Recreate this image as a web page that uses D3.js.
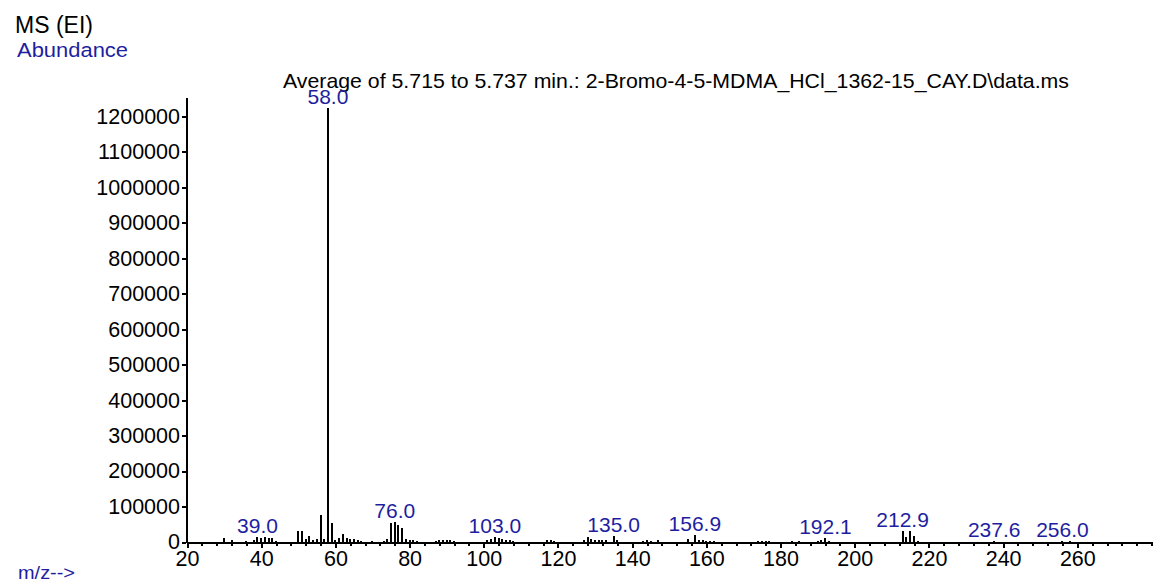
<!DOCTYPE html>
<meta charset="utf-8">
<style>
body { margin: 0; background: #fff; }
svg text { font-family: "Liberation Sans", Arial, sans-serif; }
.axis path, .axis line { stroke: #000; stroke-width: 2px; shape-rendering: crispEdges; }
.axis text { fill: #000; font-size: 21.5px; }
.peak { stroke: #000; stroke-width: 1.6px; shape-rendering: crispEdges; }
.blue { fill: #1e1ea0; }
</style>
<body>
<svg width="1153" height="585"></svg>
<script src="https://d3js.org/d3.v7.min.js"></script>
<script>

// peaks (m/z, abundance)
var mz = [30, 32, 36, 38, 39, 40, 41, 42, 43, 44,
          50, 51, 52, 53, 54, 55, 56, 57, 58, 59, 60, 61, 62, 63, 64, 65, 66, 67, 70,
          73, 74, 75, 76, 77, 78, 79, 80, 81, 82, 87, 88, 89, 90, 91, 92,
          101, 102, 103, 104, 105, 106, 107, 108, 117, 118, 119,
          127, 128, 129, 130, 131, 132, 133, 135, 136, 143, 144, 145, 147,
          155, 156.9, 158, 159, 160, 161, 162, 174, 175, 176, 177, 183, 185,
          190, 191, 192.1, 193, 212.9, 213.9, 214.9, 215.9, 217, 237.6, 256, 258];
var abundance = [11000, 7000, 4000, 6000, 14000, 10000, 13000, 12000, 11000, 4000,
          31000, 31000, 8000, 18000, 6000, 9000, 76000, 8000, 1225000, 54000, 6000, 10000, 23000, 10000, 8000, 9000, 5000, 3000, 3000,
          3000, 9000, 54000, 55000, 48000, 40000, 8000, 6000, 5000, 3000, 3000, 6000, 5000, 6000, 5000, 3000,
          5000, 9000, 14000, 10000, 8000, 5000, 5000, 3000, 5000, 6000, 4000,
          5000, 13000, 8000, 7000, 6000, 7000, 6000, 16000, 5000, 4000, 6000, 4000, 5000,
          8000, 20000, 6000, 5000, 4000, 4000, 3000, 3000, 4000, 4000, 3000, 3000, 4000,
          4000, 5000, 10000, 4000, 32000, 14000, 30000, 16000, 4000, 2500, 3000, 3000];

var labelMz = [39.0, 58.0, 76.0, 103.0, 135.0, 156.9, 192.1, 212.9, 237.6, 256.0];

var yTicks = d3.range(0, 1200001, 100000);
var xTicks = d3.range(20, 261, 20);
var xMinor = d3.range(20, 281, 4);

var title = "Average of 5.715 to 5.737 min.: 2-Bromo-4-5-MDMA_HCl_1362-15_CAY.D\\data.ms";

var svg = d3.select("svg");

var x = d3.scaleLinear().domain([20, 280.4]).range([187, 1153]);
var y = d3.scaleLinear().domain([0, 1255000]).range([542, 97]);

svg.append("text")
    .attr("x", 15).attr("y", 33)
    .attr("font-size", "23px")
    .text("MS (EI)");

svg.append("text")
    .attr("class", "blue")
    .attr("x", 17).attr("y", 57)
    .attr("font-size", "20.5px")
    .attr("textLength", 111)
    .attr("lengthAdjust", "spacingAndGlyphs")
    .text("Abundance");

svg.append("text")
    .attr("x", 283).attr("y", 88)
    .attr("font-size", "21px")
    .attr("textLength", 786)
    .attr("lengthAdjust", "spacingAndGlyphs")
    .text(title);

svg.append("text")
    .attr("class", "blue")
    .attr("x", 18).attr("y", 579)
    .attr("font-size", "18px")
    .attr("textLength", 57)
    .attr("lengthAdjust", "spacingAndGlyphs")
    .text("m/z-->");

// peaks
var peaks = mz.map(function(m, i) { return {mz: m, ab: abundance[i]}; });

svg.selectAll(".peak")
    .data(peaks)
  .enter().append("line")
    .attr("class", "peak")
    .attr("x1", function(d) { return Math.round(x(d.mz)); })
    .attr("x2", function(d) { return Math.round(x(d.mz)); })
    .attr("y1", y(0))
    .attr("y2", function(d) { return y(d.ab); });

// axes
svg.append("g")
    .attr("class", "axis")
    .attr("transform", "translate(186,0)")
    .call(d3.axisLeft(y).tickValues(yTicks).tickSize(4).tickSizeOuter(0).tickPadding(2).tickFormat(d3.format("d")));

svg.append("g")
    .attr("class", "axis")
    .attr("transform", "translate(0," + y(0) + ")")
    .call(d3.axisBottom(x).tickValues(xMinor).tickSize(4).tickSizeOuter(0).tickFormat(""));

svg.append("g")
    .attr("class", "axis")
    .attr("transform", "translate(0," + y(0) + ")")
    .call(d3.axisBottom(x).tickValues(xTicks).tickSize(6).tickSizeOuter(0).tickPadding(3).tickFormat(d3.format("d")));

// peak labels
svg.selectAll(".plabel")
    .data(labelMz)
  .enter().append("text")
    .attr("class", "plabel blue")
    .attr("text-anchor", "middle")
    .attr("font-size", "21px")
    .attr("x", function(m) { return x(m); })
    .attr("y", function(m) {
      var p = peaks.find(function(d) { return Math.abs(d.mz - m) < 0.05; });
      return y(p.ab) - 4;
    })
    .text(function(m) { return m.toFixed(1); });

</script>
</body>
